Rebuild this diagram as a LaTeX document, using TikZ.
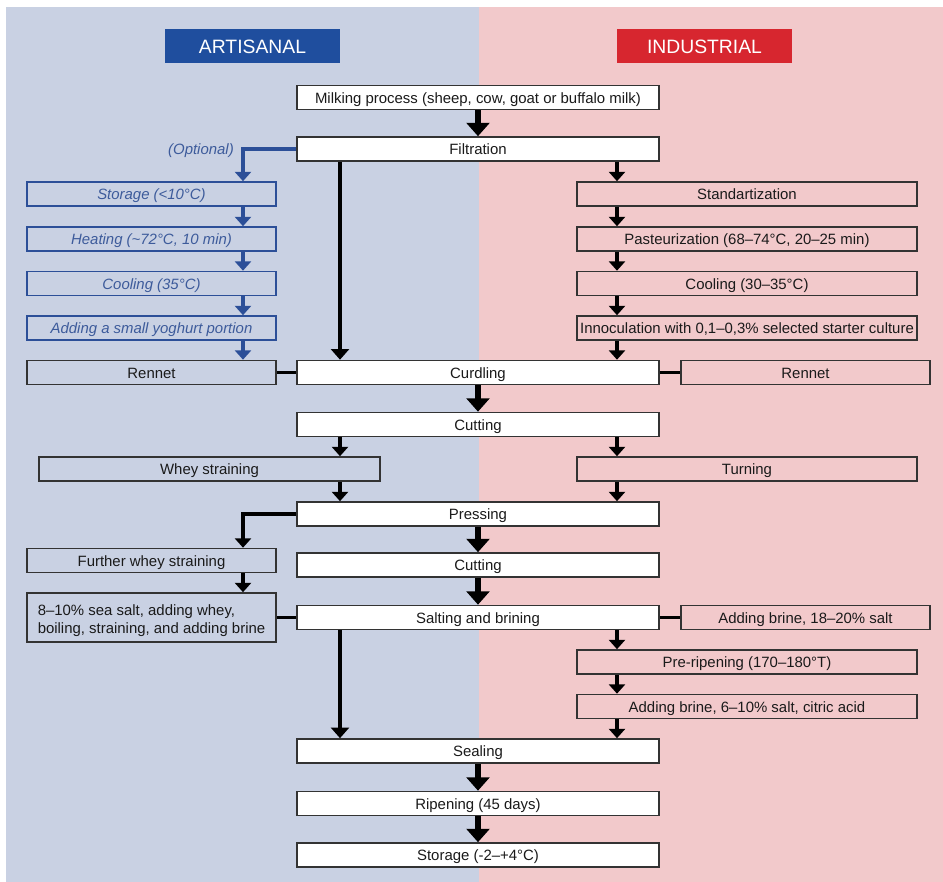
\documentclass[tikz,border=0pt]{standalone}
\usepackage{fontspec}
\setmainfont{Liberation Sans}
\usetikzlibrary{arrows.meta,calc}

\definecolor{artbg}{HTML}{C9D1E3}
\definecolor{indbg}{HTML}{F2C9CB}
\definecolor{artblue}{HTML}{1F4E9E}
\definecolor{indred}{HTML}{D7262F}
\definecolor{optblue}{HTML}{2C4F98}
\definecolor{opttext}{HTML}{3D5B9B}
\definecolor{edgegray}{HTML}{333333}
\definecolor{inkgray}{HTML}{1A1A1A}

\begin{document}
\begin{tikzpicture}[x=0.75pt,y=-0.75pt,
  boxbase/.style={draw=edgegray, line width=1.2pt, minimum height=18pt, inner sep=2pt,
              text=inkgray, font=\fontsize{11.2}{13.5}\selectfont},
  box/.style={boxbase, text height=9.3pt, text depth=0.7pt},
  mainbox/.style={box, fill=white, minimum width=271.5pt},
  leftbox/.style={box, minimum width=186.75pt},
  rightbox/.style={box, minimum width=255pt},
  optbox/.style={box, draw=optblue, text=opttext, minimum width=186.75pt,
                 font=\fontsize{11.2}{13.5}\selectfont\itshape},
  header/.style={text=white, minimum width=131.25pt, minimum height=25.5pt, inner sep=0pt,
                 text height=12.5pt, text depth=0.9pt,
                 font=\fontsize{14.5}{16}\selectfont},
  bigarrow/.style={draw=black, line width=4pt, -{Triangle[width=17pt,length=10pt]}},
  smallarrow/.style={draw=black, line width=2.6pt, -{Triangle[width=12pt,length=7pt]}},
  longarrow/.style={draw=black, line width=2.6pt, -{Triangle[width=13.5pt,length=8pt]}},
  optarrow/.style={draw=optblue, line width=2.6pt, -{Triangle[width=12pt,length=7pt,color=optblue]}},
  link/.style={draw=black, line width=2.2pt}
]
\useasboundingbox (0,0) rectangle (943,882);
\fill[white] (0,0) rectangle (943,882);
\fill[artbg] (6,7) rectangle (479,882);
\fill[indbg] (479,7) rectangle (943,882);

% column guides for the vertical connectors
\coordinate (xL) at (340,0);
\coordinate (xR) at (617,0);
\coordinate (xB) at (243,0);

% headers
\node[header, fill=artblue] (hart) at (252.5,46) {ARTISANAL};
\node[header, fill=indred] (hind) at (704.5,46) {INDUSTRIAL};

% main column
\node[mainbox] (milk) at (478,97.5) {Milking process (sheep, cow, goat or buffalo milk)};
\node[mainbox] (filt) at (478,149) {Filtration};
\node[mainbox] (curd) at (478,372.5) {Curdling};
\node[mainbox] (cut) at (478,424.5) {Cutting};
\node[mainbox] (press) at (478,514) {Pressing};
\node[mainbox] (cut2) at (478,565) {Cutting};
\node[mainbox] (salt) at (478,617.5) {Salting and brining};
\node[mainbox] (seal) at (478,751) {Sealing};
\node[mainbox] (rip) at (478,803.5) {Ripening (45 days)};
\node[mainbox] (stor) at (478,855) {Storage (-2--+4°C)};

% artisanal side
\node[optbox] (store) at (151.5,194) {Storage (<10°C)};
\node[optbox] (heat) at (151.5,239) {Heating (\textasciitilde 72°C, 10 min)};
\node[optbox] (coolA) at (151.5,283.5) {Cooling (35°C)};
\node[optbox] (yog) at (151.5,328) {Adding a small yoghurt portion};
\node[leftbox] (rennetL) at (151.5,372.5) {Rennet};
\node[box, minimum width=255.75pt] (whey) at (209.5,469) {Whey straining};
\node[leftbox] (further) at (151.5,560.5) {Further whey straining};
\node[boxbase, minimum width=186.75pt, minimum height=36.75pt, align=left]
  (brineA) at (151.5,617.5)
  {\rule{0pt}{12.3pt}8--10\% sea salt, adding whey,\\boiling, straining, and adding brine};
\node[text=opttext, font=\fontsize{11.2}{13.5}\selectfont\itshape, anchor=east, inner sep=0pt]
  (opt) at (234,151) {(Optional)};

% industrial side
\node[rightbox] (stand) at (747,194) {Standartization};
\node[rightbox] (past) at (747,239) {Pasteurization (68--74°C, 20--25 min)};
\node[rightbox] (coolB) at (747,283.5) {Cooling (30--35°C)};
\node[rightbox] (innoc) at (747,328) {Innoculation with 0,1--0,3\% selected starter culture};
\node[leftbox] (rennetR) at (805.5,372.5) {Rennet};
\node[rightbox] (turn) at (747,469) {Turning};
\node[leftbox] (brineB) at (805.5,617.5) {Adding brine, 18--20\% salt};
\node[rightbox] (prerip) at (747,662) {Pre-ripening (170--180°T)};
\node[rightbox] (brineC) at (747,706.5) {Adding brine, 6--10\% salt, citric acid};

% main flow
\draw[bigarrow] (milk) -- (filt);
\draw[longarrow] (filt.south -| xL) -- (curd.north -| xL);
\draw[bigarrow] (curd) -- (cut);
\draw[bigarrow] (press) -- (cut2);
\draw[bigarrow] (cut2) -- (salt);
\draw[longarrow] (salt.south -| xL) -- (seal.north -| xL);
\draw[bigarrow] (seal) -- (rip);
\draw[bigarrow] (rip) -- (stor);

% optional artisanal branch
\draw[optarrow] (filt.west) -| (store.north -| xB);
\foreach \a/\b in {store/heat, heat/coolA, coolA/yog, yog/rennetL}
  \draw[optarrow] (\a.south -| xB) -- (\b.north -| xB);

% industrial pre-treatment
\draw[smallarrow] (filt.south -| xR) -- (stand.north -| xR);
\foreach \a/\b in {stand/past, past/coolB, coolB/innoc, innoc/curd}
  \draw[smallarrow] (\a.south -| xR) -- (\b.north -| xR);

% rennet links
\draw[link] (rennetL) -- (curd);
\draw[link] (curd) -- (rennetR);

% cutting to pressing
\draw[smallarrow] (cut.south -| xL) -- (whey.north -| xL);
\draw[smallarrow] (whey.south -| xL) -- (press.north -| xL);
\draw[smallarrow] (cut.south -| xR) -- (turn.north -| xR);
\draw[smallarrow] (turn.south -| xR) -- (press.north -| xR);

% artisanal salting
\draw[smallarrow] (press.west) -| (further.north -| xB);
\draw[smallarrow] (further.south -| xB) -- (brineA.north -| xB);
\draw[link] (brineA) -- (salt);

% industrial brining
\draw[link] (salt) -- (brineB);
\draw[smallarrow] (salt.south -| xR) -- (prerip.north -| xR);
\draw[smallarrow] (prerip.south -| xR) -- (brineC.north -| xR);
\draw[smallarrow] (brineC.south -| xR) -- (seal.north -| xR);
\end{tikzpicture}
\end{document}
